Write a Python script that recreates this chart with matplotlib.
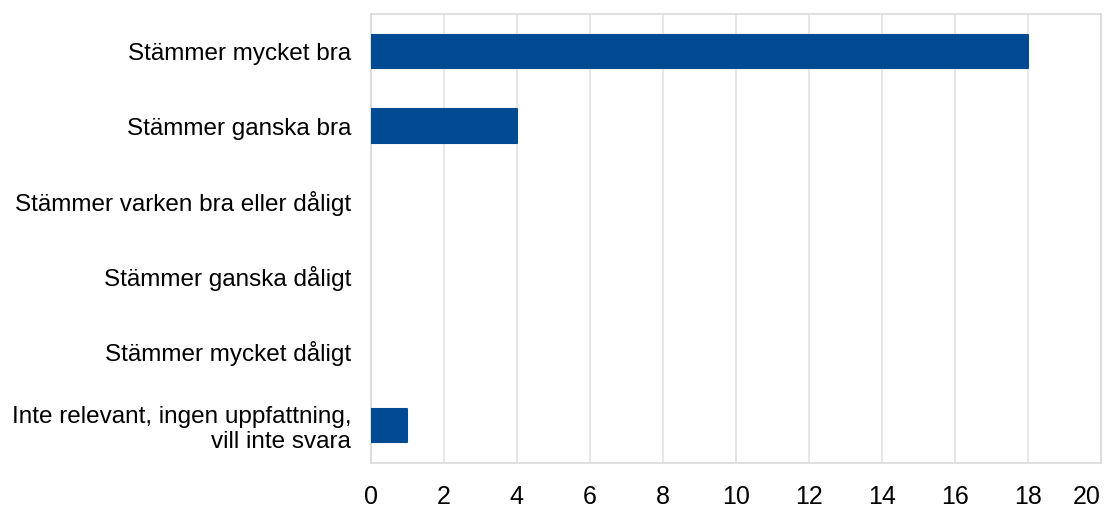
import matplotlib
matplotlib.use('Agg')
import matplotlib.pyplot as plt

plt.rcParams['font.family'] = ['Liberation Sans', 'DejaVu Sans']

categories = ['Stämmer mycket bra',
              'Stämmer ganska bra',
              'Stämmer varken bra eller dåligt',
              'Stämmer ganska dåligt',
              'Stämmer mycket dåligt',
              'Inte relevant, ingen uppfattning,\nvill inte svara']
values = [18, 4, 0, 0, 0, 1]
xticks = [0, 2, 4, 6, 8, 10, 12, 14, 16, 18, 20]

blue = '#004a93'
grey = '#d9d9d9'

fig = plt.figure(figsize=(11.05, 5.07), dpi=100)
ax = fig.add_axes([0.3355, 0.0868, 0.6609, 0.8856])

ypos = list(range(len(categories)))
lws = [1.5 if v > 0 else 0 for v in values]
ax.barh(ypos, values, height=0.45, color=blue, edgecolor=blue,
        linewidth=lws, joinstyle='round', zorder=3)

ax.set_ylim(len(categories) - 0.5, -0.5)
ax.set_xlim(0, 20)
ax.set_yticks(ypos)
ax.set_yticklabels(categories, fontsize=17.5)
ax.set_xticks(xticks)
ax.set_xticklabels([str(t) for t in xticks], fontsize=18)
ax.xaxis.get_ticklabels()[-1].set_horizontalalignment('right')
ax.tick_params(axis='both', length=0, colors='black')
ax.tick_params(axis='y', pad=14)
ax.tick_params(axis='x', pad=16)

ax.grid(axis='x', color='#e3e3e3', linewidth=1.2, zorder=0)
for s in ax.spines.values():
    s.set_color(grey)
    s.set_linewidth(1.2)

fig.savefig('out.png', dpi=100)
